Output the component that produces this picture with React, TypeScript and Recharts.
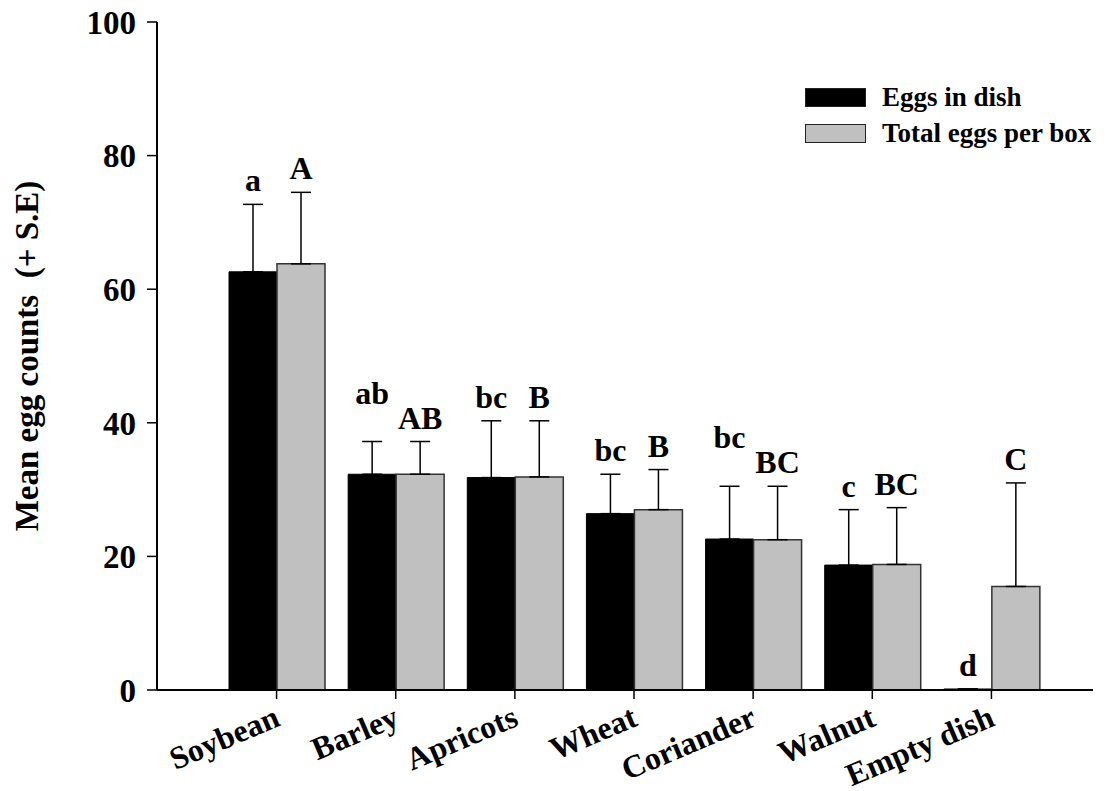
import { Bar, BarChart, ErrorBar, LabelList, Legend, XAxis, YAxis } from "recharts";

const categories = ["Soybean", "Barley", "Apricots", "Wheat", "Coriander", "Walnut", "Empty dish"];
const eggsInDish = [62.6, 32.3, 31.8, 26.4, 22.6, 18.7, 0.15];
const eggsInDishSE = [10.1, 4.9, 8.5, 5.9, 7.9, 8.3, 0];
const totalEggs = [63.8, 32.3, 31.9, 27.0, 22.5, 18.8, 15.5];
const totalEggsSE = [10.7, 4.9, 8.4, 6.0, 8.0, 8.5, 15.5];
const dishLetters = ["a", "ab", "bc", "bc", "bc", "c", "d"];
const boxLetters = ["A", "AB", "B", "B", "BC", "BC", "C"];
const yTicks = [0, 20, 40, 60, 80, 100];

const FONT = '"Liberation Serif", "Times New Roman", serif';

const data = categories.map((name, i) => ({
  name,
  dish: eggsInDish[i],
  dishErr: [0, eggsInDishSE[i]],
  box: totalEggs[i],
  boxErr: [0, totalEggsSE[i]],
}));

// black letter is lifted when both letters of a pair are wide, so they don't collide
const lifted = categories.map((_, i) => dishLetters[i].length > 1 && boxLetters[i].length > 1);

function letterLabel(letters: string[], errs: number[], values: number[], lift: boolean[]) {
  return (props: any) => {
    const vb = props.viewBox ?? props;
    const i = props.index;
    if (i == null) return null;
    const x = Number(vb.x);
    const y = Number(vb.y);
    const w = Number(vb.width);
    const h = Math.abs(Number(vb.height));
    const pxPerUnit = values[i] > 0 ? h / values[i] : 0;
    const capY = y - errs[i] * pxPerUnit;
    const baseY = capY - (lift[i] ? 38 : 13);
    return (
      <text x={x + w / 2} y={baseY} textAnchor="middle" fontFamily={FONT} fontWeight="bold" fontSize={32} fill="#000">
        {letters[i]}
      </text>
    );
  };
}

function CategoryTick({ x, y, payload }: any) {
  const tx = x + 5;
  const ty = y + 24;
  return (
    <text
      x={tx}
      y={ty}
      textAnchor="end"
      transform={`rotate(-23, ${tx}, ${ty})`}
      fontFamily={FONT}
      fontWeight="bold"
      fontSize={32}
      fill="#000"
    >
      {payload.value}
    </text>
  );
}

function LegendBoxes({ payload }: any) {
  return (
    <div>
      {(payload ?? []).map((p: any) => (
        <div key={p.value} style={{ display: "flex", alignItems: "center", height: 36 }}>
          <span
            style={{
              display: "inline-block",
              width: 61,
              height: 19,
              background: p.color,
              border: "1.5px solid #222",
              boxSizing: "border-box",
            }}
          />
          <span style={{ marginLeft: 16, fontFamily: FONT, fontWeight: "bold", fontSize: 27, color: "#000", lineHeight: "27px" }}>
            {p.value}
          </span>
        </div>
      ))}
    </div>
  );
}

function YTitle(props: any) {
  const vb = props.viewBox ?? { y: 22, height: 668 };
  const cx = 38;
  const cy = vb.y + vb.height / 2;
  return (
    <text
      x={cx}
      y={cy}
      transform={`rotate(-90, ${cx}, ${cy})`}
      textAnchor="middle"
      fontFamily={FONT}
      fontWeight="bold"
      fontSize={33}
      fill="#000"
      style={{ whiteSpace: "pre" }}
    >
      Mean egg counts  (+ S.E)
    </text>
  );
}

export default function App() {
  return (
    <div style={{ position: "absolute", left: 0, top: 0, width: 1106, height: 791, background: "#fff" }}>
      <BarChart
        width={1106}
        height={791}
        data={data}
        margin={{ top: 22, right: 13, bottom: 21, left: 0 }}
        barGap={0}
        style={{ overflow: "visible" }}
      >
        <XAxis
          dataKey="name"
          height={80}
          padding={{ left: 60, right: 42 }}
          axisLine={{ stroke: "#000", strokeWidth: 2 }}
          tickLine={{ stroke: "#000", strokeWidth: 1.5 }}
          tickSize={9}
          interval={0}
          tick={<CategoryTick />}
        />
        <YAxis
          width={157}
          domain={[0, 100]}
          ticks={yTicks}
          axisLine={{ stroke: "#000", strokeWidth: 2 }}
          tickLine={{ stroke: "#000", strokeWidth: 1.5 }}
          tickSize={10}
          tickMargin={11}
          tick={{ fill: "#000", fontFamily: FONT, fontWeight: "bold", fontSize: 33 }}
          label={{ content: <YTitle /> }}
        />
        <Legend
          layout="vertical"
          align="center"
          verticalAlign="middle"
          content={<LegendBoxes />}
          wrapperStyle={{ left: 805, top: 79, width: 300 }}
        />
        <Bar dataKey="dish" name="Eggs in dish" fill="#000" stroke="#000" barSize={48} isAnimationActive={false}>
          <ErrorBar dataKey="dishErr" width={10} stroke="#000" strokeWidth={1.5} direction="y" />
          <LabelList dataKey="dish" content={letterLabel(dishLetters, eggsInDishSE, eggsInDish, lifted)} />
        </Bar>
        <Bar dataKey="box" name="Total eggs per box" fill="#c0c0c0" stroke="#333" strokeWidth={1.5} barSize={48} isAnimationActive={false}>
          <ErrorBar dataKey="boxErr" width={10} stroke="#000" strokeWidth={1.5} direction="y" />
          <LabelList dataKey="box" content={letterLabel(boxLetters, totalEggsSE, totalEggs, categories.map(() => false))} />
        </Bar>
      </BarChart>
    </div>
  );
}
